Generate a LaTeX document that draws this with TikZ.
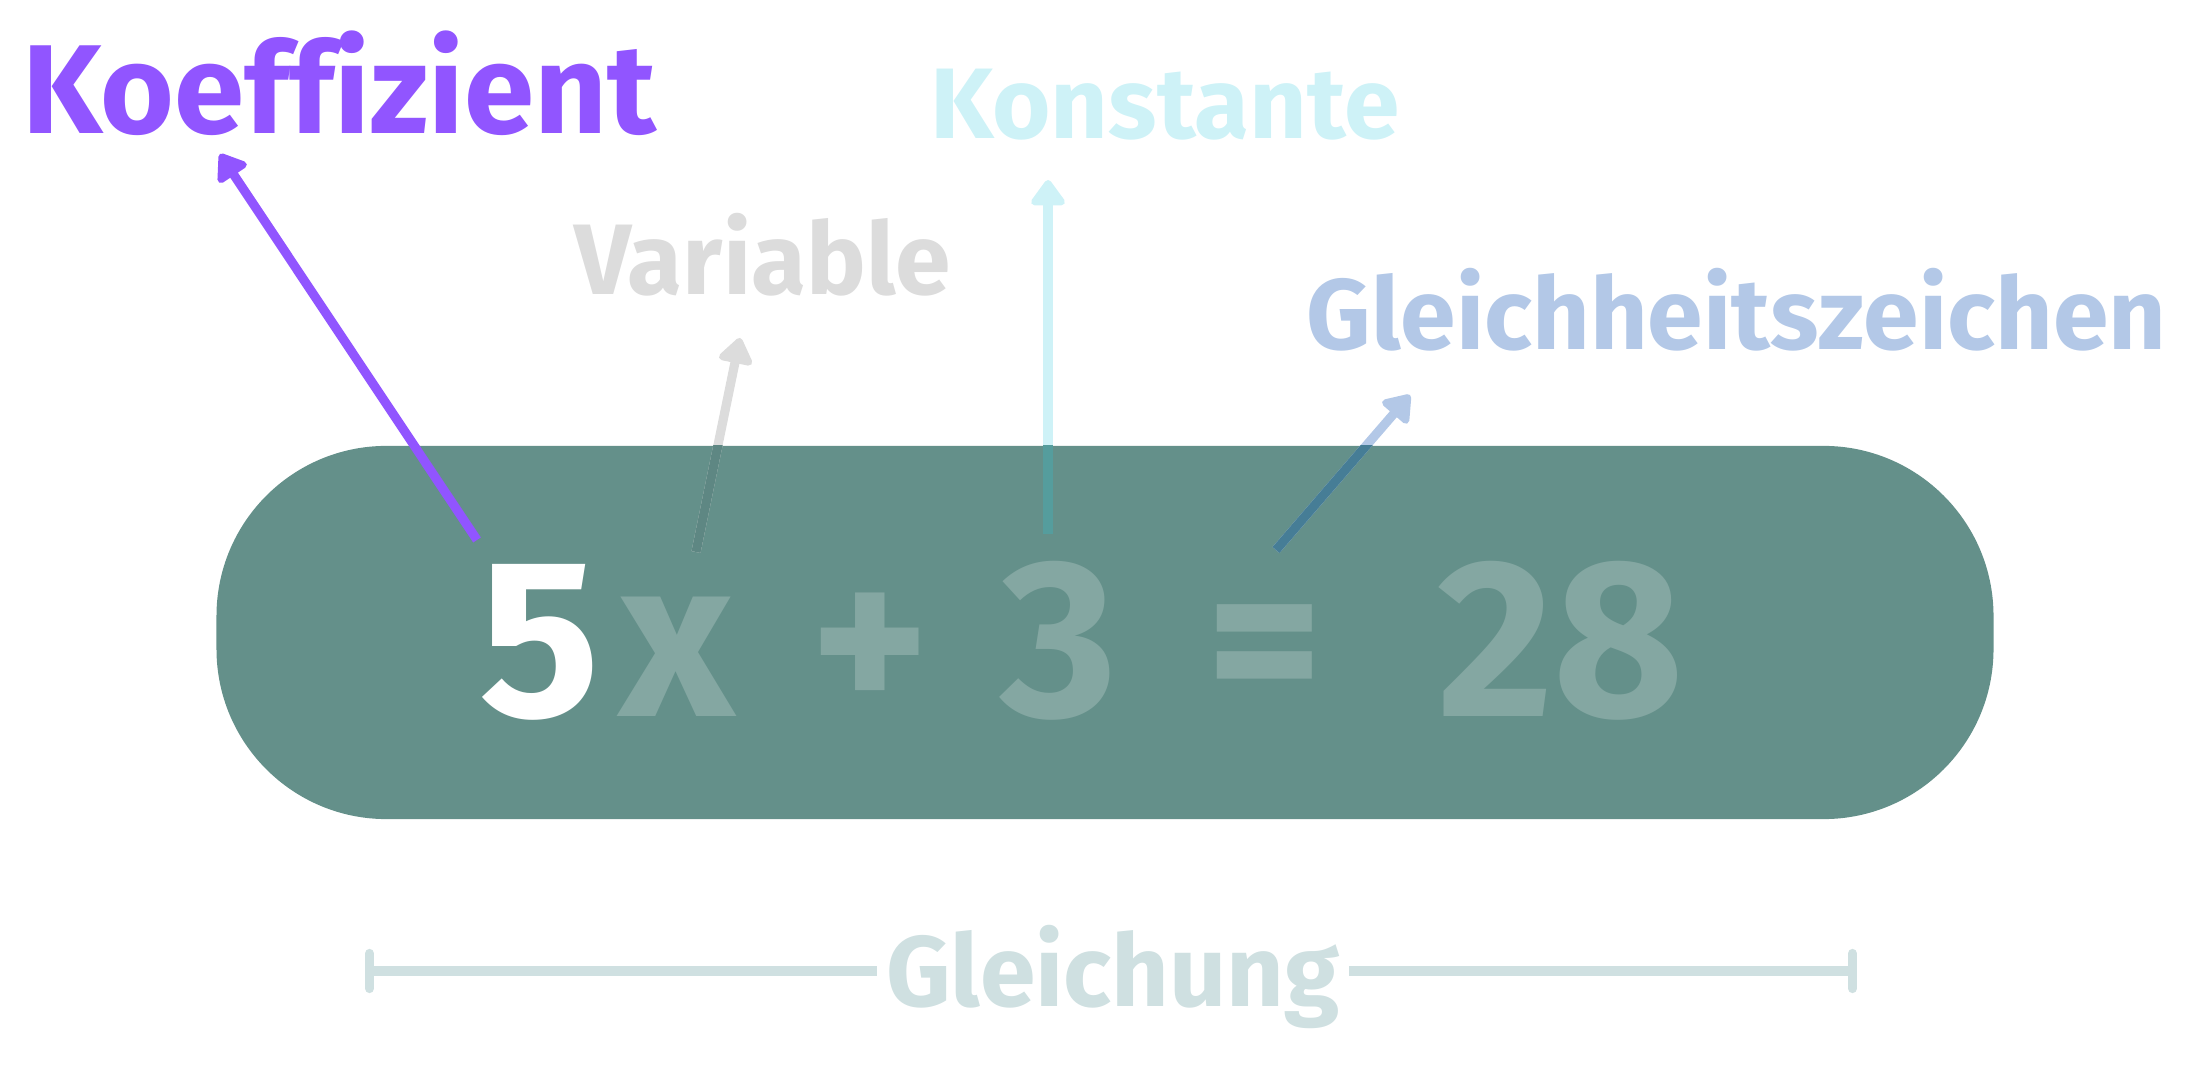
\documentclass[tikz,border=0pt]{standalone}
\usepackage{fontspec}
\usetikzlibrary{positioning, arrows.meta}
\newfontfamily\lblfont{Fira Sans}[Ligatures=NoCommon]
\definecolor{koeffpurple}{HTML}{9155FF}
\definecolor{vargray}{HTML}{DCDCDC}
\definecolor{konstcyan}{HTML}{CEF2F7}
\definecolor{gleichblue}{HTML}{B3C8E7}
\definecolor{boxteal}{HTML}{64908A}
\definecolor{eqteal}{HTML}{84A7A2}
\definecolor{spanline}{HTML}{CFE0E1}
% pointer colours where they cross the box
\definecolor{varover}{HTML}{5E8783}
\definecolor{konstover}{HTML}{559D9D}
\definecolor{gleichover}{HTML}{467D96}

\begin{document}
\begin{tikzpicture}[
    x=0.01cm, y=-0.01cm,
    lbl/.style={font=\lblfont\bfseries\fontsize{28.5}{30}\selectfont, inner sep=0pt, anchor=base west},
    glyph/.style={font=\lblfont\bfseries\fontsize{64}{66}\selectfont, text=eqteal, inner sep=0pt, anchor=base},
    pointer/.style={-{Triangle[round, length=8pt, width=11pt]}, line width=2.6pt},
    overlap/.style={line width=2.6pt},
    span/.style={line width=2.6pt, draw=spanline},
  ]
  \useasboundingbox (0,0) rectangle (2200,1080);

  % ── Equation box ──
  \node[fill=boxteal, rounded corners=1.7cm, minimum width=17.76cm, minimum height=3.73cm] (eqbox) at (1105,632.5) {};
  \node[glyph, text=white] (five) at (540,717) {5};
  \node[glyph] (varx) at (677,717) {x};
  \node[glyph] (plus) at (870,717) {+};
  \node[glyph] (three) at (1059,717) {3};
  \node[glyph] (equals) at (1265,717) {=};
  \node[glyph] (rhs) at (1561,717) {28};

  % ── Labels ──
  \node[lbl, text=koeffpurple, font=\lblfont\bfseries\fontsize{36}{38}\selectfont] (koeff) at (22,134) {Koeffizient};
  \node[lbl, text=vargray] (variable) at (574,295) {Variable};
  \node[lbl, text=konstcyan] (konst) at (930,139) {Konstante};
  \node[lbl, text=gleichblue] (gleichz) at (1306,350) {Gleichheitszeichen};

  % ── Pointers ──
  \coordinate (koeffstart) at (477,540);
  \coordinate (koefftip) at (220,154);
  \coordinate (varstart) at (696,552);
  \coordinate (vartip) at (740,338);
  \coordinate (konststart) at (1048,534);
  \coordinate (konsttip) at (1048,180);
  \coordinate (gleichstart) at (1276,550);
  \coordinate (gleichtip) at (1410,395);
  \draw[pointer, vargray] (varstart) -- (vartip);
  \draw[pointer, konstcyan] (konststart) -- (konsttip);
  \draw[pointer, gleichblue] (gleichstart) -- (gleichtip);
  \begin{scope}
    \clip[rounded corners=1.7cm] (eqbox.south west) rectangle (eqbox.north east);
    \draw[overlap, varover] (varstart) -- (vartip);
    \draw[overlap, konstover] (konststart) -- (konsttip);
    \draw[overlap, gleichover] (gleichstart) -- (gleichtip);
  \end{scope}
  \draw[pointer, koeffpurple] (koeffstart) -- (koefftip);

  % ── Span under the box ──
  \node[font=\lblfont\bfseries\fontsize{28.5}{30}\selectfont, text=spanline, inner xsep=2.5pt, inner ysep=0pt, anchor=base] (gleichung) at (1113,1007) {Gleichung};
  \coordinate (lbar) at (365,971);
  \coordinate (rbar) at (1857,971);
  \draw[span, {Bar[width=10pt, round]}-] (lbar) -- (lbar -| gleichung.west);
  \draw[span, -{Bar[width=10pt, round]}] (rbar -| gleichung.east) -- (rbar);

\end{tikzpicture}
\end{document}
